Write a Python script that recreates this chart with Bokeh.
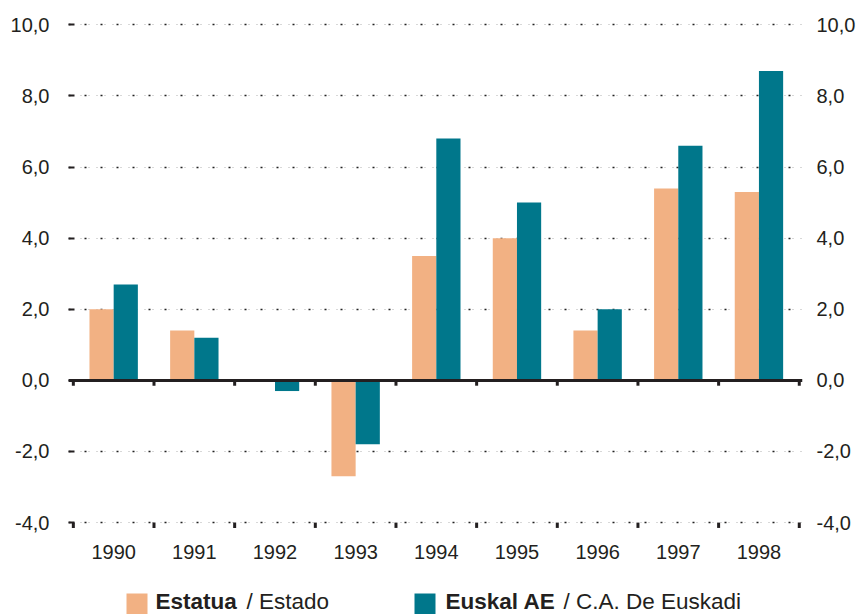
from bokeh.plotting import figure
from bokeh.core.properties import value
from bokeh.models import (ColumnDataSource, FixedTicker, Span, Label, BoxAnnotation,
                          LinearAxis, Range1d, Grid)
from bokeh.embed import file_html
from bokeh.resources import INLINE

years = ["1990", "1991", "1992", "1993", "1994", "1995", "1996", "1997", "1998"]
estatua = [2.0, 1.4, 0.0, -2.7, 3.5, 4.0, 1.4, 5.4, 5.3]
euskal = [2.7, 1.2, -0.3, -1.8, 6.8, 5.0, 2.0, 6.6, 8.7]
y_ticks = [-4, -2, 0, 2, 4, 6, 8, 10]
y_tick_labels = ["-4,0", "-2,0", "0,0", "2,0", "4,0", "6,0", "8,0", "10,0"]

ORANGE = "#F2B183"
TEAL = "#00778B"
INK = "#231F20"
FONT = "Liberation Sans"

n = len(years)
centers = [i + 0.5 for i in range(n)]
bw = 0.3
src = ColumnDataSource(dict(
    xo=[c - bw / 2 for c in centers],
    xt=[c + bw / 2 for c in centers],
    estatua=estatua, euskal=euskal))

# frame runs to the bottom of the canvas so the legend can sit inside it
p = figure(width=858, height=614, output_backend="svg", toolbar_location=None,
           x_range=Range1d(-0.06, 9.04), y_range=Range1d(-6.585, 10.15),
           x_axis_location=None,
           min_border_left=68, min_border_right=48, min_border_top=19, min_border_bottom=0,
           outline_line_color=None, background_fill_color="white")

# grids
p.xgrid.grid_line_color = None
p.ygrid.ticker = FixedTicker(ticks=y_ticks)
p.ygrid.grid_line_color = "#222222"
p.ygrid.grid_line_dash = "2 14"
p.ygrid.grid_line_width = 1.5
g2 = Grid(dimension=1, ticker=FixedTicker(ticks=y_ticks), grid_line_color="#b0b0b0",
          grid_line_dash="1 7", grid_line_dash_offset=4, grid_line_width=1)
p.add_layout(g2)

# bars
p.vbar(x="xo", top="estatua", bottom=0, width=bw, source=src, color=ORANGE, line_color=None)
p.vbar(x="xt", top="euskal", bottom=0, width=bw, source=src, color=TEAL, line_color=None)

# zero line
p.add_layout(Span(location=0, dimension="width", line_color=INK, line_width=3))

# category boundary ticks on zero line and bottom
bounds = list(range(n + 1))
p.segment(x0=bounds, y0=[0] * len(bounds), x1=bounds, y1=[-0.15] * len(bounds),
          line_color=INK, line_width=3)
p.segment(x0=bounds, y0=[y_ticks[0]] * len(bounds), x1=bounds, y1=[y_ticks[0] - 0.15] * len(bounds),
          line_color=INK, line_width=3)

# category labels under the bottom line
p.text(x=centers, y=[y_ticks[0]] * n, text=years, y_offset=29,
       text_align="center", text_baseline="middle",
       text_font=value(FONT), text_font_size="20px", text_color=INK)

# left axis
ya = p.yaxis[0]
ya.ticker = FixedTicker(ticks=y_ticks)
ya.major_label_overrides = {t: l for t, l in zip(y_ticks, y_tick_labels)}
ya.axis_line_color = None
ya.major_tick_in = 6
ya.major_tick_out = 0
ya.major_tick_line_color = INK
ya.major_tick_line_width = 2
ya.minor_tick_line_color = None
ya.major_label_standoff = 19
ya.major_label_text_font = FONT
ya.major_label_text_font_size = "20px"
ya.major_label_text_color = INK

# right axis
ra = LinearAxis(ticker=FixedTicker(ticks=y_ticks),
                major_label_overrides={t: l for t, l in zip(y_ticks, y_tick_labels)},
                axis_line_color=None, major_tick_line_color=None, minor_tick_line_color=None,
                major_label_standoff=8, major_label_text_font=FONT,
                major_label_text_font_size="20px", major_label_text_color=INK)
p.add_layout(ra, "right")

# legend (frame-relative screen units)
for left, col in [(58, ORANGE), (346, TEAL)]:
    p.add_layout(BoxAnnotation(left=left, right=left + 21, bottom=-2, top=21,
                               left_units="screen", right_units="screen",
                               top_units="screen", bottom_units="screen",
                               fill_color=col, fill_alpha=1, line_color=None))
legend_texts = [(87, "Estatua", "bold"), (178, "/ Estado", "normal"),
                (377, "Euskal AE", "bold"), (495, "/ C.A. De Euskadi", "normal")]
for x, t, w in legend_texts:
    p.add_layout(Label(x=x, y=13, x_units="screen", y_units="screen", text=t,
                       text_font=FONT, text_font_size="22.5px", text_font_style=w,
                       text_color=INK, text_baseline="alphabetic"))

open("out.html", "w").write(file_html(p, INLINE))
